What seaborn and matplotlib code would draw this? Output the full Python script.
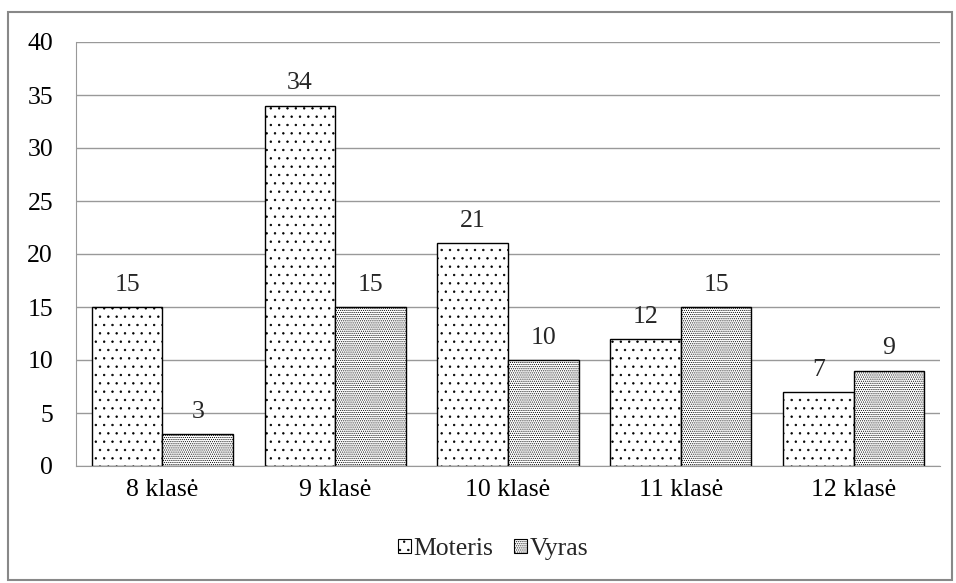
import numpy as np
import pandas as pd
import seaborn as sns
import matplotlib.pyplot as plt
from matplotlib.patches import Rectangle

# data
classes = ["8 klasė", "9 klasė", "10 klasė", "11 klasė", "12 klasė"]
moteris = [15, 34, 21, 12, 7]
vyras = [3, 15, 10, 15, 9]
groups = ["Moteris", "Vyras"]
hatches = ["..", "........"]

df = pd.DataFrame({
    "klase": classes * 2,
    "lytis": [groups[0]] * len(classes) + [groups[1]] * len(classes),
    "n": moteris + vyras,
})

FS = 18.5

sns.set_style("white")
plt.rcParams["font.family"] = ["Liberation Serif", "DejaVu Serif"]
plt.rcParams["hatch.linewidth"] = 0.5

fig = plt.figure(figsize=(9.56, 5.83), dpi=100)
ax = fig.add_axes([76 / 956, 1 - 466 / 583, (940 - 76) / 956, (466 - 42) / 583])

sns.barplot(data=df, x="klase", y="n", hue="lytis", palette=["white", "white"],
            width=0.818, edgecolor="black", linewidth=1.0, gap=0, ax=ax, legend=False)

for cont, h in zip(ax.containers, hatches):
    for bar in cont:
        bar.set_hatch(h)
    ax.bar_label(cont, padding=8, fontsize=FS)

ax.set_ylim(0, 40)
ax.set_yticks(range(0, 41, 5))
ax.set_xlim(-0.5, len(classes) - 0.5)
ax.set_xlabel("")
ax.set_ylabel("")
ax.tick_params(axis="both", labelsize=FS, colors="black")
ax.tick_params(axis="y", length=6.5, color="#999999", direction="out", pad=10)
ax.tick_params(axis="x", which="major", length=0, pad=9)
ax.set_xticks(np.arange(-0.5, len(classes), 1), minor=True)
ax.tick_params(axis="x", which="minor", length=6.5, color="#999999", direction="out")
ax.grid(axis="y", color="#999999", linewidth=1)
ax.set_axisbelow(True)
for side in ["top", "right"]:
    ax.spines[side].set_visible(False)
for side in ["left", "bottom"]:
    ax.spines[side].set_color("#999999")

handles = [Rectangle((0, 0), 1, 1, facecolor="white", edgecolor="black", hatch=h, linewidth=0.8)
           for h in hatches]
fig.legend(handles, groups, loc="center", bbox_to_anchor=(493 / 956, 1 - 549 / 583), ncol=2,
           frameon=False, fontsize=FS, handlelength=0.5, handleheight=0.5,
           handletextpad=0.1, columnspacing=0.8, borderpad=0)

fig.patches.append(Rectangle((8 / 956, 3 / 583), 944 / 956, 568 / 583, transform=fig.transFigure,
                             fill=False, edgecolor="#888888", linewidth=1.5))

fig.savefig("out.png", dpi=100)
plt.close()
